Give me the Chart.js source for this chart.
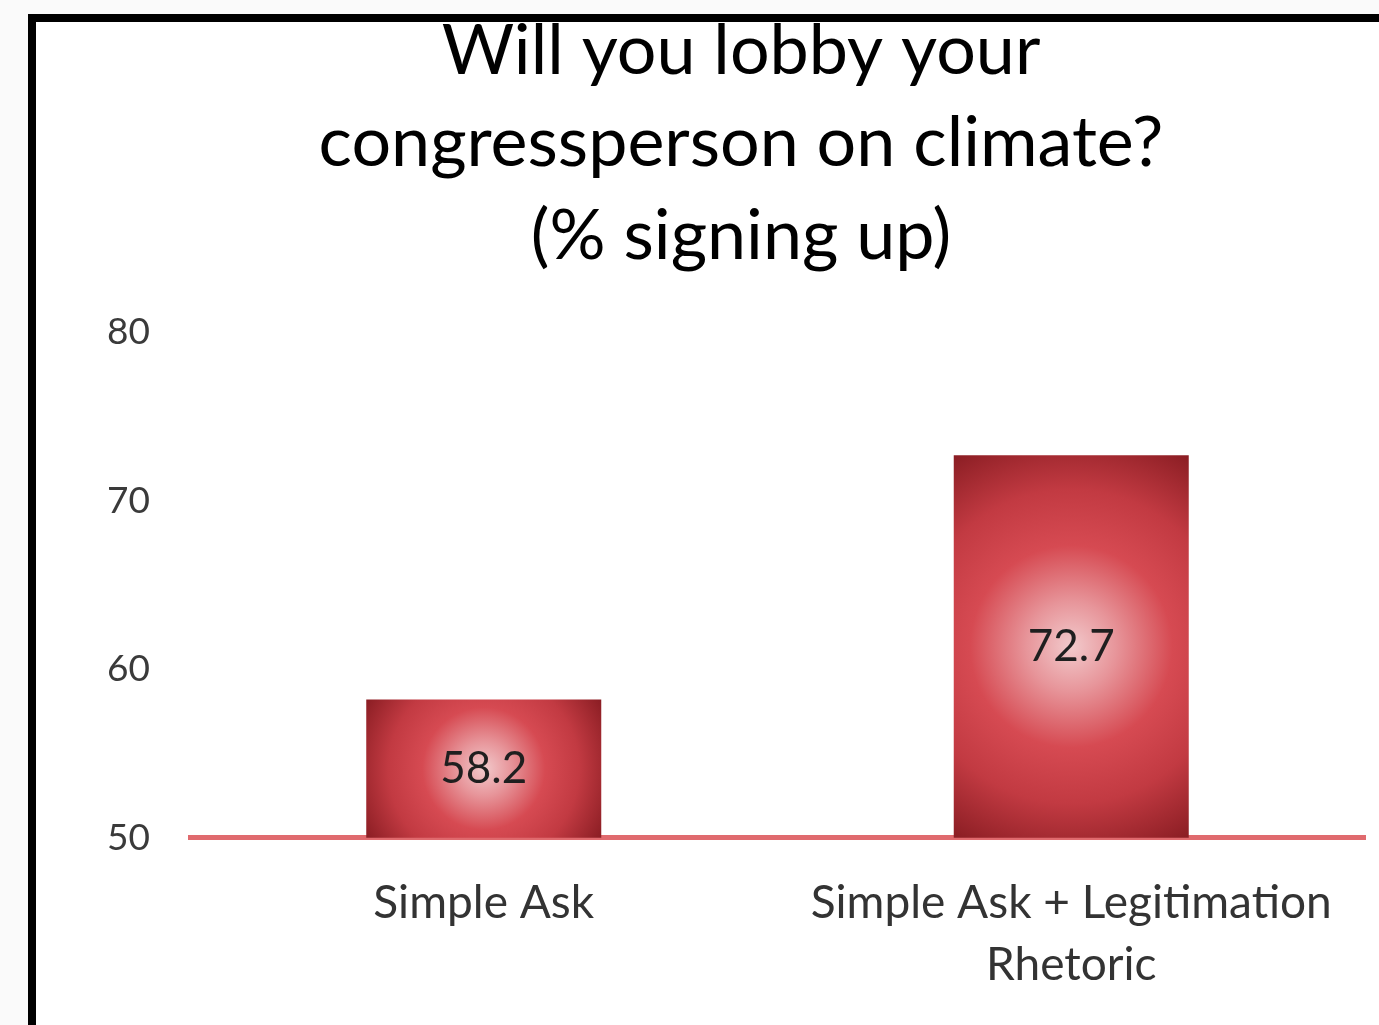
<!DOCTYPE html>
<html>
<head>
<meta charset="utf-8">
<script src="https://cdn.jsdelivr.net/npm/chart.js@4"></script>
<style>
    html, body { margin: 0; padding: 0; background: #fafafa; }
    .frame {
        position: absolute;
        left: 28px;
        top: 14px;
        width: 1343px;
        height: 1003px;
        border-top: 8px solid #000;
        border-left: 8px solid #000;
        background: #fff;
    }
    canvas { display: block; }
</style>
</head>
<body>
<div class="frame">
    <canvas id="chart1" width="1343" height="1003"></canvas>
</div>
<script>
// data
const categories = ['Simple Ask', ['Simple Ask + Legitimation', 'Rhetoric']];
const signupPct = [58.2, 72.7];
const yTicks = [50, 60, 70, 80];
const titleLines = ['Will you lobby your', 'congressperson on climate?', '(% signing up)'];

const FONT = 'Lato, "Open Sans", sans-serif';

// radial red fill per bar, built from the scales
function barFill(ctx) {
    const chart = ctx.chart;
    const xs = chart.scales.x, ys = chart.scales.y;
    if (!xs || !ys || ctx.dataIndex === undefined) return '#d0434b';
    const cx = xs.getPixelForValue(ctx.dataIndex);
    const top = ys.getPixelForValue(signupPct[ctx.dataIndex]);
    const bottom = ys.getPixelForValue(yTicks[0]);
    const halfW = (xs.width / categories.length) * 0.4 / 2;
    const cy = (top + bottom) / 2;
    const r = Math.sqrt(halfW * halfW + Math.pow((bottom - top) / 2, 2));
    if (![cx, cy, r].every(Number.isFinite) || r <= 0) return '#d0434b';
    const g = chart.ctx.createRadialGradient(cx, cy, 0, cx, cy, r);
    g.addColorStop(0, '#f2cacc');
    g.addColorStop(0.2, '#e7959a');
    g.addColorStop(0.45, '#d64a52');
    g.addColorStop(0.7, '#c23a42');
    g.addColorStop(1, '#8a1d23');
    return g;
}

// value text in the middle of each bar
const valueLabels = {
    id: 'valueLabels',
    afterLayout(chart) {
        // let the y tick labels hang left of the narrow axis box without clipping
        const y = chart.scales.y;
        y.left = y.right - 100;
    },
    afterDatasetsDraw(chart) {
        const c = chart.ctx;
        const meta = chart.getDatasetMeta(0);
        const floor = chart.scales.y.getPixelForValue(yTicks[0]);
        c.save();
        c.font = '44px ' + FONT;
        c.fillStyle = '#1f1f1f';
        c.textAlign = 'center';
        c.textBaseline = 'middle';
        meta.data.forEach((bar, i) => {
            c.fillText(signupPct[i].toFixed(1), bar.x, (bar.y + floor) / 2);
        });
        c.restore();
    }
};

var ctx1 = document.getElementById('chart1').getContext('2d');
new Chart(ctx1, {
    type: 'bar',
    data: {
        labels: categories,
        datasets: [{
            data: signupPct,
            backgroundColor: barFill,
            borderWidth: 0,
            categoryPercentage: 1,
            barPercentage: 0.4
        }]
    },
    options: {
        responsive: false,
        animation: false,
        layout: {
            padding: { left: 81, right: 14, top: 0, bottom: -5 }
        },
        plugins: {
            legend: { display: false },
            tooltip: { enabled: false },
            title: {
                display: true,
                text: titleLines,
                color: '#000',
                font: { family: FONT, size: 70, weight: 'normal', lineHeight: 1.32 },
                padding: { top: -17, bottom: 50 }
            }
        },
        scales: {
            x: {
                grid: { display: false, drawTicks: false },
                border: { display: true, color: '#e06a6e', width: 5 },
                ticks: {
                    color: '#333',
                    padding: 34,
                    maxRotation: 0,
                    autoSkip: false,
                    font: { family: FONT, size: 46, lineHeight: 1.35 }
                }
            },
            y: {
                min: yTicks[0],
                max: yTicks[yTicks.length - 1],
                afterBuildTicks(scale) {
                    scale.ticks = yTicks.map(v => ({ value: v }));
                },
                afterFit(scale) {
                    scale.width = 73;
                },
                grid: { display: false, drawTicks: false },
                border: { display: false },
                ticks: {
                    color: '#3a3a3a',
                    padding: 40,
                    font: { family: FONT, size: 37 }
                }
            }
        }
    },
    plugins: [valueLabels]
});
</script>
</body>
</html>
